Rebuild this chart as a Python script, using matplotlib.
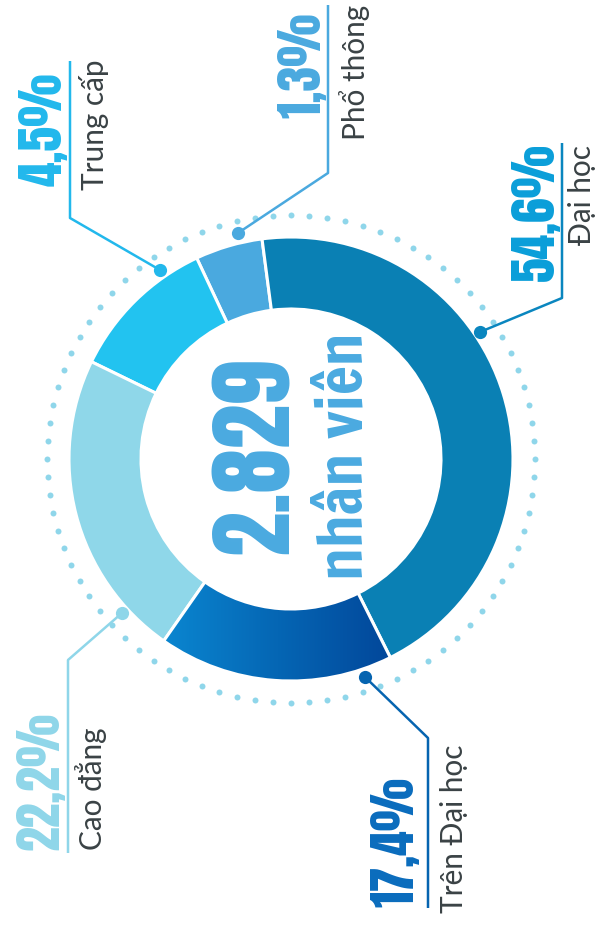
import matplotlib
matplotlib.use("Agg")
import matplotlib.pyplot as plt
import numpy as np
from matplotlib.colors import LinearSegmentedColormap

W, H = 599, 926

# ring segments, counter-clockwise starting at the top
levels = ["Phổ thông", "Trung cấp", "Cao đẳng", "Trên Đại học", "Đại học"]
pct_labels = ["1,3%", "4,5%", "22,2%", "17,4%", "54,6%"]
# share of the ring as it is drawn in the picture (not the same as the labels)
ring_share = [4.9, 10.8, 22.5, 17.1, 44.7]
total_staff = "2.829"
total_unit = "nhân viên"

seg_colors = ["#4aa9df", "#22c3f0", "#8fd7e9", "#0569b5", "#0a80b4"]
pct_colors = ["#4aa9df", "#22b8ec", "#8fd6e9", "#0a6cbd", "#0a9ed9"]
line_colors = ["#4aa9df", "#22b8ec", "#8fd6e9", "#0664b0", "#0a86bf"]

# callout layout in picture pixels (x right, y down)
# line points, percent anchor (x baseline, y, align), name anchor, lengths of both texts
callouts = [
    dict(line=[(328, 5), (328, 173), (238, 233)], pct=(320, 13, "right"), name=(365, 5, "right"), span=(100, 140)),
    dict(line=[(70, 61), (70, 218), (160, 270)], pct=(62, 73, "right"), name=(104, 60, "right"), span=(110, 137)),
    dict(line=[(68, 853), (68, 660), (122, 613)], pct=(58, 850, "left"), name=(102, 850, "left"), span=(133, 143)),
    dict(line=[(428, 908), (428, 738), (365, 677)], pct=(413, 907, "left"), name=(463, 913, "left"), span=(120, 173)),
    dict(line=[(562, 143), (562, 298), (480, 332)], pct=(554, 143, "right"), name=(591, 145, "right"), span=(138, 110)),
]

CX, CY = 291, 459
R_OUT, R_IN, R_DOTS = 222, 150, 244

BIG_FONT = ["Anton", "DejaVu Sans"]
WIDE_BOLD = ["Francois One", "Anton", "DejaVu Sans"]
THIN_FONT = ["Lato", "DejaVu Sans"]


def iy(y):
    return H - y


fig = plt.figure(figsize=(W / 100, H / 100), dpi=100)
ax = fig.add_axes([0, 0, 1, 1])

# dotted ring
ang = np.linspace(0, 2 * np.pi, 84, endpoint=False)
ax.plot(CX + R_DOTS * np.cos(ang), iy(CY) + R_DOTS * np.sin(ang), "o",
        color="#8fd6ea", markersize=4.3, markeredgewidth=0, zorder=1)

wedges, _ = ax.pie(ring_share, colors=seg_colors, startangle=97.5, counterclock=True,
                   radius=R_OUT, center=(CX, iy(CY)),
                   wedgeprops=dict(width=R_OUT - R_IN, edgecolor="white", linewidth=2.2))

# gradient fill on "Trên Đại học"
grad_wedge = wedges[3]
ext = grad_wedge.get_path().get_extents()
cmap = LinearSegmentedColormap.from_list("tdh", ["#0a86d0", "#0566b4", "#02479a"])
img = ax.imshow(np.linspace(0, 1, 256).reshape(1, -1), cmap=cmap, aspect="auto",
                extent=(ext.x0, ext.x1, ext.y0, ext.y1), zorder=2)
img.set_clip_path(grad_wedge)
grad_wedge.set_zorder(3)
grad_wedge.set_facecolor("none")

# callouts
pct_texts, name_texts = [], []
for i, c in enumerate(callouts):
    xs = [p[0] for p in c["line"]]
    ys = [iy(p[1]) for p in c["line"]]
    ax.plot(xs, ys, color=line_colors[i], linewidth=1.8, solid_capstyle="butt", zorder=4)
    ax.plot(xs[-1], ys[-1], "o", color=line_colors[i], markersize=9.5, markeredgewidth=0, zorder=5)
    px, py, pa = c["pct"]
    pct_texts.append(ax.text(px, iy(py), pct_labels[i], rotation=90, rotation_mode="anchor",
                             ha=pa, va="baseline", fontsize=36, family=BIG_FONT, color=pct_colors[i]))
    nx, ny, na = c["name"]
    name_texts.append(ax.text(nx, iy(ny), levels[i], rotation=90, rotation_mode="anchor",
                              ha=na, va="baseline", fontsize=18, fontweight="normal",
                              family=THIN_FONT, color="#3a4245"))

# centre text
t_num = ax.text(288, iy(456), total_staff, rotation=90, rotation_mode="anchor", ha="center",
                va="baseline", fontsize=67, family=BIG_FONT, color="#4aaae0")
t_unit = ax.text(362, iy(456), total_unit, rotation=90, rotation_mode="anchor", ha="center",
                 va="baseline", fontsize=40, family=WIDE_BOLD, color="#4aaae0")

ax.set_xlim(0, W)
ax.set_ylim(0, H)
ax.set_aspect("auto")
ax.axis("off")

# scale each group of texts so their lengths match the picture
fig.canvas.draw()
rend = fig.canvas.get_renderer()


def fit(texts, lengths, extra=1.0):
    k = np.median([L / t.get_window_extent(rend).height for t, L in zip(texts, lengths)])
    for t in texts:
        t.set_fontsize(t.get_fontsize() * k * extra)


fit(pct_texts, [c["span"][0] for c in callouts], 1.04)
fit(name_texts, [c["span"][1] for c in callouts], 0.95)
fit([t_num], [197])
fit([t_unit], [247])

fig.savefig("out.png", dpi=100, facecolor="white")
